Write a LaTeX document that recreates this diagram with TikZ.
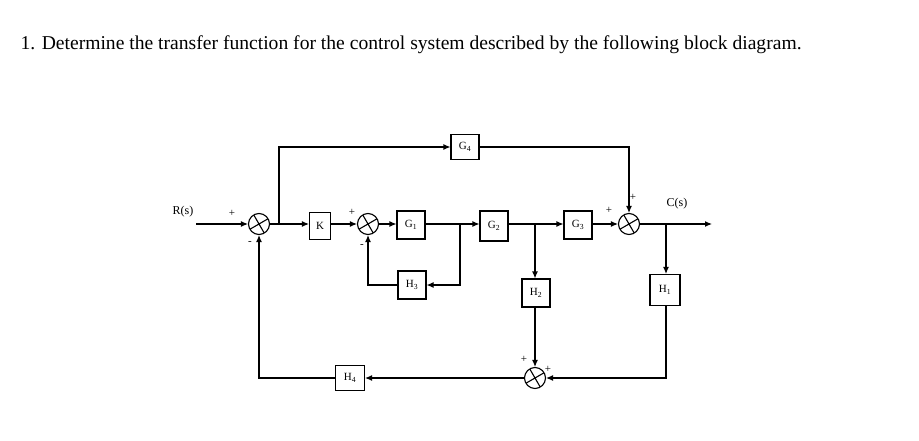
\documentclass[tikz,border=0pt]{standalone}
\usepackage{fontspec}
\setmainfont{Liberation Serif}
\usetikzlibrary{arrows.meta}
\begin{document}
\begin{tikzpicture}[x=1pt,y=-1pt,
    blk/.style={draw, line width=1.1pt, minimum width=28pt, minimum height=28pt, inner sep=0pt, font=\fontsize{11}{13}\selectfont},
    sum/.style={draw, line width=1.1pt, circle, minimum size=21pt, inner sep=0pt,
      path picture={\draw[line width=1.1pt] (path picture bounding box.center) ++(120:12pt) -- ++(-60:24pt)
        (path picture bounding box.center) ++(30:12pt) -- ++(210:24pt);}},
    arr/.style={-{Latex[length=7pt,width=6pt]}, line width=1.1pt},
    ln/.style={line width=1.1pt},
    sg/.style={font=\fontsize{11}{12}\selectfont},
  ]
  \useasboundingbox (0,0) rectangle (919,441);
  \node[anchor=west, font=\fontsize{19.6}{22}\selectfont] (title) at (17,45)
    {1. Determine the transfer function for the control system described by the following block diagram.};

  % summing junctions
  \node[sum] (s1) at (259,224) {};
  \node[sum] (s2) at (368,224) {};
  \node[sum] (s3) at (629,224) {};
  \node[sum] (s4) at (535,378) {};

  % blocks
  \node[blk, minimum width=21pt, minimum height=27pt] (K) at (320,226) {K};
  \node[blk] (G1) at (411,225) {G\textsubscript{1}};
  \node[blk, minimum height=30pt] (G2) at (494,226) {G\textsubscript{2}};
  \node[blk] (G3) at (578,225) {G\textsubscript{3}};
  \node[blk, minimum height=25pt] (G4) at (465,147) {G\textsubscript{4}};
  \node[blk] (H3) at (412,285) {H\textsubscript{3}};
  \node[blk] (H2) at (536,293) {H\textsubscript{2}};
  \node[blk, minimum width=30pt, minimum height=31pt] (H1) at (665,290) {H\textsubscript{1}};
  \node[blk, minimum width=29pt, minimum height=25pt] (H4) at (350,378) {H\textsubscript{4}};

  % labels
  \node[font=\fontsize{12}{14}\selectfont] (R) at (183,212) {R(s)};
  \node[font=\fontsize{12}{14}\selectfont] (C) at (677,204) {C(s)};
  \coordinate (in) at (196,224);
  \coordinate (out) at (712,224);

  % branch points
  \coordinate (b1) at (279,224);
  \coordinate (b2) at (460,224);
  \coordinate (b3) at (535,224);
  \coordinate (b4) at (666,224);

  % forward path
  \draw[arr] (in) -- (s1.west);
  \draw[ln] (s1.east) -- (b1);
  \draw[arr] (b1) -- (K.west |- b1);
  \draw[arr] (K.east |- b1) -- (s2.west);
  \draw[arr] (s2.east) -- (G1.west |- s2);
  \draw[ln] (G1.east |- b2) -- (b2);
  \draw[arr] (b2) -- (G2.west |- b2);
  \draw[ln] (G2.east |- b3) -- (b3);
  \draw[arr] (b3) -- (G3.west |- b3);
  \draw[arr] (G3.east |- s3) -- (s3.west);
  \draw[arr] (s3.east) -- (out);

  % feedforward G4
  \draw[arr] (b1) |- (G4.west);
  \draw[arr] (G4.east) -| (s3.north);

  % H3 loop
  \draw[arr] (b2) |- (H3.east);
  \draw[arr] (H3.west) -| (s2.south);

  % H2 / H1 to s4
  \draw[arr] (b3) -- (H2.north -| b3);
  \draw[arr] (H2.south -| s4) -- (s4.north);
  \draw[arr] (b4) -- (H1.north -| b4);
  \draw[arr] (H1.south -| b4) |- (s4.east);

  % H4 loop
  \draw[arr] (s4.west) -- (H4.east);
  \draw[arr] (H4.west) -| (s1.south);

  % signs
  \node[sg] (p1) at (232,213) {+};
  \node[sg] (m1) at (250,243) {-};
  \node[sg] (p2) at (352,212) {+};
  \node[sg] (m2) at (362,246) {-};
  \node[sg] (p3) at (609,210) {+};
  \node[sg] (p4) at (633,197) {+};
  \node[sg] (p5) at (524,359) {+};
  \node[sg] (p6) at (548,369) {+};
\end{tikzpicture}
\end{document}
